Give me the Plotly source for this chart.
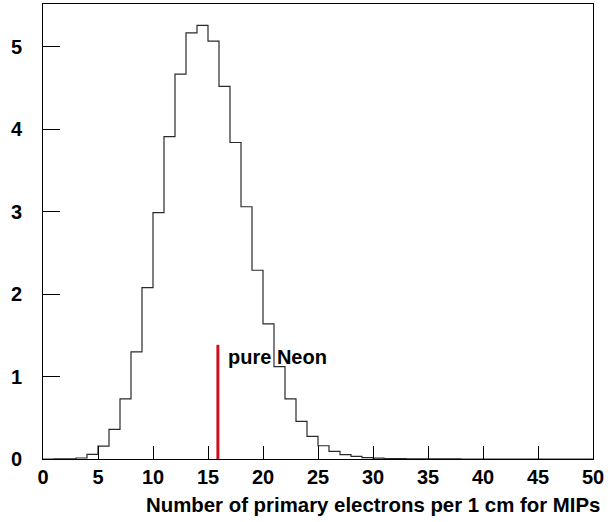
import plotly.graph_objects as go

bin_edges = list(range(0, 51))
counts = [0.0, 0.001, 0.003, 0.012, 0.055, 0.155, 0.36, 0.73, 1.30, 2.08,
          2.99, 3.91, 4.67, 5.17, 5.26, 5.07, 4.52, 3.84, 3.06, 2.29,
          1.64, 1.12, 0.73, 0.456, 0.274, 0.161, 0.092, 0.052, 0.032, 0.016,
          0.010, 0.006, 0.004, 0.003, 0.002, 0.001, 0.001, 0.001, 0.0, 0.0,
          0.0, 0.0, 0.0, 0.0, 0.0, 0.0, 0.0, 0.0, 0.0, 0.0]
neon_x = 15.9
neon_height = 1.385
neon_label = "pure Neon"
x_ticks = [0, 5, 10, 15, 20, 25, 30, 35, 40, 45, 50]
y_ticks = [0, 1, 2, 3, 4, 5]
x_title = "Number of primary electrons per 1 cm for MIPs"

FONT = "Liberation Sans, Arial, Helvetica, sans-serif"

fig = go.Figure()
fig.add_trace(go.Scatter(
    x=bin_edges, y=counts + [counts[-1]], mode="lines", line_shape="hv",
    line=dict(color="#2a2a2a", width=1.2), showlegend=False, hoverinfo="skip"))
fig.add_trace(go.Scatter(
    x=[neon_x, neon_x], y=[0, neon_height], mode="lines",
    line=dict(color="#cc1020", width=3), showlegend=False, hoverinfo="skip"))

fig.add_annotation(x=neon_x + 0.75, y=1.24, xref="x", yref="y", text=neon_label,
                   showarrow=False, xanchor="left", yanchor="middle",
                   font=dict(family=FONT, size=20, color="black", weight="bold"))
fig.add_annotation(x=1.0, y=0, xref="paper", yref="paper", yshift=-33, xshift=9,
                   text=x_title, showarrow=False, xanchor="right", yanchor="top",
                   font=dict(family=FONT, size=20.4, color="black", weight="bold"))

fig.update_layout(
    width=608, height=522,
    margin=dict(l=43, r=15, t=4, b=63),
    paper_bgcolor="white", plot_bgcolor="white",
    xaxis=dict(range=[0, 50], tickvals=x_ticks, ticks="inside", ticklen=13,
               tickwidth=1, tickcolor="black", showline=True, linecolor="black",
               linewidth=1, mirror=True, showgrid=False, zeroline=False,
               tickfont=dict(family=FONT, size=20, color="black", weight="bold"),
               ticklabelstandoff=0),
    yaxis=dict(range=[0, 5.52], tickvals=y_ticks, ticks="inside", ticklen=17,
               tickwidth=1, tickcolor="black", showline=True, linecolor="black",
               linewidth=1, mirror=True, showgrid=False, zeroline=False,
               tickfont=dict(family=FONT, size=20, color="black", weight="bold"),
               ticklabelstandoff=16),
)

fig.write_html("out.html", config={"displayModeBar": False},
               post_script="document.body.style.margin='0';")
